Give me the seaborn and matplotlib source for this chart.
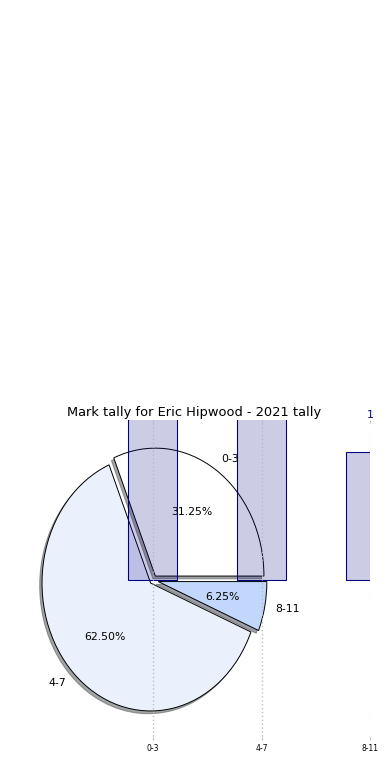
import matplotlib
matplotlib.use('Agg')
import matplotlib.pyplot as plt
import seaborn as sns

# tally data
intervals = ['0-3', '4-7', '8-11']
counts = [5, 10, 1]
pie_colors = ['#ffffff', '#eaf1fd', '#c2d7fc']
explode = [0.04, 0.03, 0.05]

fig = plt.figure(figsize=(5, 10), dpi=78)
ax = fig.add_axes([0.044, 0.051, 0.905, 0.41])

# pie first, bars drawn over it
ax.pie(counts, labels=intervals, colors=pie_colors, explode=explode,
       autopct='%.2f%%', shadow=True, startangle=0,
       wedgeprops={'edgecolor': 'black', 'linewidth': 0.9})
n_pie = len(ax.patches)

sns.barplot(x=intervals, y=counts, width=0.45, color='navy', saturation=1,
            edgecolor='navy', linewidth=1, legend=False, ax=ax)
for bar in ax.patches[n_pie:]:
    bar.set_facecolor((0, 0, 0.5, 0.2))
if ax.get_legend() is not None:
    ax.get_legend().remove()

# value labels (only the small one lands inside the figure)
for i, v in enumerate(counts):
    if v + 0.25 < 1.5:
        ax.text(i, v + 0.25, str(v), ha='center', va='bottom', color='navy',
                fontsize=10, clip_on=False)

ax.set_aspect('auto')
ax.set_xlim(-1.25, 2.0)
ax.set_ylim(-1.25, 1.25)
ax.set_frame_on(False)
ax.set_xticks(range(len(intervals)), intervals)
ax.set_yticks([])
ax.grid(axis='x', linestyle=(0, (1, 2)), color='#b8b8b8', linewidth=1.2)
ax.tick_params(axis='x', labelsize=7, color='#b8b8b8', length=3,
               direction='in', top=True)

ax.set_title('Mark tally for Eric Hipwood - 2021 tally', fontsize=12, pad=4)
ax.set_xlabel('Frequency', fontsize=10)
ax.set_ylabel('Stat Intervals', fontsize=10)

fig.savefig('out.png', dpi=78)
